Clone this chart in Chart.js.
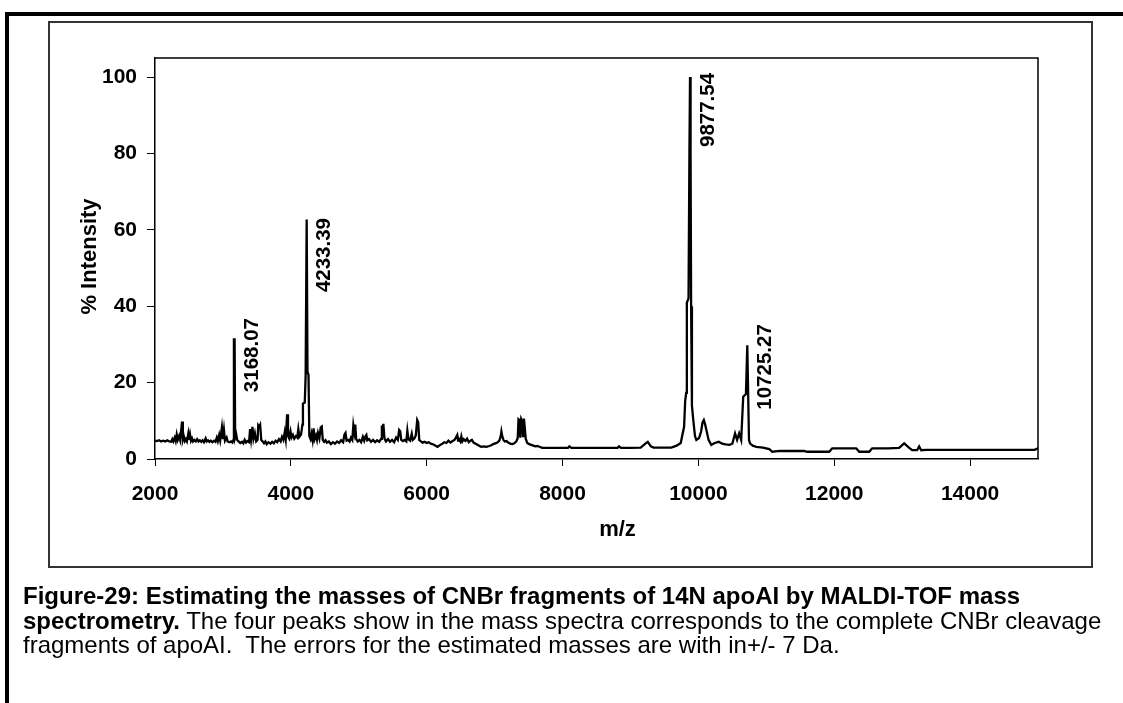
<!DOCTYPE html>
<html>
<head>
<meta charset="utf-8">
<script src="https://cdn.jsdelivr.net/npm/chart.js@4/dist/chart.umd.min.js"></script>
<style>
html,body{margin:0;padding:0;background:#fff;width:1123px;height:703px;overflow:hidden;}
#outer{position:absolute;left:5px;top:12px;width:1200px;height:800px;border-top:4px solid #000;border-left:4px solid #000;}
#frame{position:absolute;left:48px;top:21px;width:1045px;height:547px;box-sizing:border-box;border:2px solid #333;}
#c{position:absolute;left:0;top:0;}
#caption{position:absolute;left:23px;top:584px;font-family:'Liberation Sans',Arial,Helvetica,sans-serif;font-size:24px;line-height:24.7px;white-space:pre;color:#000;}
</style>
</head>
<body>
<div id="outer"></div>
<div id="frame"></div>
<canvas id="c" width="1123" height="703"></canvas>
<div id="caption"><b>Figure-29: Estimating the masses of CNBr fragments of 14N apoAI by MALDI-TOF mass</b>
<b>spectrometry.</b> The four peaks show in the mass spectra corresponds to the complete CNBr cleavage
fragments of apoAI.  The errors for the estimated masses are with in+/- 7 Da.</div>
<script>
// ---- data ----
const mz = [
 2000,2030,2060,2090,2120,2150,2180,2210,2240,2255,
 2270,2290,2305,2320,2335,2355,2370,2385,2398,2410,
 2425,2440,2455,2470,2490,2500,2515,2530,2545,2560,
 2580,2600,2620,2640,2660,2680,2700,2720,2745,2760,
 2780,2800,2820,2845,2870,2890,2910,2925,2945,2960,
 2985,3000,3015,3030,3055,3070,3095,3120,3140,3155,
 3162,3172,3180,3195,3210,3230,3255,3280,3300,3320,
 3340,3360,3385,3400,3415,3435,3450,3470,3490,3510,
 3520,3535,3548,3565,3585,3605,3625,3645,3670,3700,
 3725,3750,3775,3800,3825,3850,3870,3890,3910,3925,
 3945,3958,3975,3995,4010,4030,4050,4075,4095,4110,
 4125,4150,4170,4178,4205,4218,4233,4245,4260,4272,
 4290,4305,4320,4335,4350,4370,4385,4400,4420,4440,
 4455,4470,4490,4510,4530,4560,4590,4620,4650,4680,
 4710,4740,4770,4790,4805,4820,4845,4865,4885,4905,
 4920,4935,4948,4962,4985,5010,5035,5060,5080,5100,
 5112,5125,5150,5180,5210,5240,5270,5300,5330,5340,
 5352,5362,5378,5400,5430,5460,5490,5520,5550,5575,
 5595,5610,5625,5650,5675,5700,5715,5730,5755,5780,
 5795,5820,5840,5860,5875,5890,5910,5940,5970,6000,
 6030,6060,6100,6130,6160,6200,6230,6260,6290,6320,
 6350,6380,6410,6430,6450,6462,6475,6495,6510,6525,
 6545,6570,6595,6620,6645,6665,6690,6720,6760,6800,
 6840,6880,6920,6950,6980,7010,7040,7070,7090,7100,
 7112,7130,7150,7176,7200,7230,7260,7290,7320,7340,
 7352,7365,7378,7392,7405,7418,7432,7445,7458,7480,
 7510,7540,7570,7600,7630,7660,7700,7800,7900,8000,
 8080,8100,8130,8300,8500,8700,8810,8830,8860,9000,
 9150,9220,9255,9300,9340,9450,9600,9680,9740,9790,
 9805,9820,9830,9855,9868,9877,9885,9893,9905,9925,
 9950,9970,10010,10040,10060,10080,10100,10118,10150,10190,
 10240,10300,10350,10400,10456,10500,10540,10570,10600,10630,
 10660,10700,10720,10730,10745,10760,10800,10853,10950,11044,
 11088,11200,11400,11560,11600,11926,11971,12100,12324,12368,
 12515,12559,12800,12956,13030,13100,13147,13220,13250,13280,
 13353,14000,14500,14950,15000
];
const intensity = [
 4.8,4.7,4.9,4.6,4.8,4.6,4.9,4.6,4.5,5.2,
 4.6,5.6,4.7,6.4,5.0,6.0,5.0,7.5,9.8,5.0,
 5.9,4.7,5.2,4.6,6.6,5.0,6.5,4.8,5.4,4.6,
 5.0,4.6,5.2,4.6,4.9,4.5,4.9,4.4,5.4,4.6,
 4.9,4.5,4.8,4.4,4.8,4.5,5.6,4.7,6.3,4.9,
 8.3,5.2,7.6,4.8,5.6,4.6,4.4,4.6,4.3,5.0,
 31.3,31.3,5.6,6.5,5.0,4.6,4.2,4.5,4.1,5.0,
 4.3,4.7,4.4,7.8,5.2,8.4,5.3,6.8,4.6,5.0,
 8.8,8.4,8.9,5.0,4.6,4.1,4.6,3.9,4.4,4.0,
 4.5,4.1,4.8,4.4,5.2,4.6,5.8,5.0,7.0,5.2,
 11.7,6.0,5.4,7.2,5.6,6.3,5.3,6.0,5.6,7.8,
 5.8,6.4,9.0,14.5,14.8,22.0,62.7,22.9,22.0,6.0,
 5.2,6.6,5.0,8.0,5.2,6.2,5.0,6.8,5.4,8.3,
 8.5,5.0,4.5,4.9,4.3,4.6,3.9,4.4,4.0,4.6,
 4.2,4.9,4.4,6.4,6.8,4.8,5.0,4.6,5.6,5.0,
 8.8,7.0,9.0,5.2,4.6,5.0,4.4,5.8,4.8,6.0,
 6.3,4.9,5.2,4.5,5.0,4.4,4.9,4.5,5.3,8.8,
 7.5,9.2,5.4,4.6,5.2,4.5,5.0,4.4,5.6,5.0,
 7.6,7.3,5.0,4.7,5.0,4.6,7.4,5.2,4.8,6.6,
 5.0,5.4,6.2,10.2,9.6,5.0,4.7,4.3,4.5,4.2,
 4.4,4.0,3.8,3.5,3.2,3.7,4.0,4.4,4.2,4.8,
 4.3,4.7,5.0,5.6,6.3,4.8,5.2,4.6,5.9,4.6,
 5.2,4.7,5.3,4.4,4.8,5.0,4.3,4.0,3.6,3.2,
 3.3,3.2,3.4,3.6,3.9,4.1,4.3,4.8,6.0,7.2,
 6.0,5.0,4.6,4.7,4.3,4.0,3.9,4.1,4.6,5.5,
 10.4,10.2,5.6,10.5,10.0,6.0,10.6,8.0,5.3,4.2,
 3.9,3.7,3.5,3.3,3.4,3.2,2.9,2.9,2.9,2.9,
 2.9,3.3,2.9,2.9,2.9,2.9,2.9,3.3,2.9,2.9,
 3.0,4.0,4.5,3.3,3.0,3.0,3.0,3.5,4.2,8.5,
 15.0,17.3,41.0,42.0,80.0,100.0,80.0,40.0,14.0,10.2,
 6.0,5.0,5.5,7.2,9.5,10.2,9.0,7.6,5.0,3.7,
 4.2,4.5,4.0,3.8,3.7,4.0,6.7,5.0,6.7,5.0,
 16.3,17.0,29.8,29.8,5.0,4.1,3.5,3.2,3.0,2.6,
 1.9,2.1,2.1,2.1,1.9,1.9,2.8,2.8,2.8,1.9,
 1.9,2.8,2.8,2.9,4.1,3.0,2.3,2.3,3.3,2.3,
 2.4,2.4,2.4,2.4,2.8
];
const xTicks = [2000, 4000, 6000, 8000, 10000, 12000, 14000];
const yTicks = [0, 20, 40, 60, 80, 100];
const peakMz = [3168.07, 4233.39, 9877.54, 10725.27];
const peakLabels = ['3168.07', '4233.39', '9877.54', '10725.27'];
const peakLabelCenter = [27.2, 53.4, 91.4, 24.1];
const xTitle = 'm/z';
const yTitle = '% Intensity';

// ---- drawing ----
const FONT = "'Liberation Sans', Arial, Helvetica, sans-serif";

const extras = {
  id: 'extras',
  afterDraw(chart) {
    const ctx = chart.ctx;
    const a = chart.chartArea;
    const xs = chart.scales.x, ys = chart.scales.y;
    ctx.save();
    ctx.strokeStyle = '#000';
    ctx.lineWidth = 1.5;
    ctx.beginPath();
    ctx.moveTo(a.left, a.top);
    ctx.lineTo(a.right, a.top);
    ctx.lineTo(a.right, a.bottom);
    ctx.stroke();
    ctx.fillStyle = '#000';
    ctx.font = 'bold 22px ' + FONT;
    ctx.textAlign = 'center';
    ctx.textBaseline = 'middle';
    ctx.fillText(xTitle, (a.left + a.right) / 2 + 21, a.bottom + 71);
    ctx.save();
    ctx.translate(a.left - 65, (a.top + a.bottom) / 2 - 2);
    ctx.rotate(-Math.PI / 2);
    ctx.fillText(yTitle, 0, 0);
    ctx.restore();
    ctx.font = 'bold 20.5px ' + FONT;
    peakMz.forEach((m, i) => {
      const px = xs.getPixelForValue(m) + 18;
      const py = ys.getPixelForValue(peakLabelCenter[i]);
      ctx.save();
      ctx.translate(px, py);
      ctx.rotate(-Math.PI / 2);
      ctx.fillText(peakLabels[i], 0, 0);
      ctx.restore();
    });
    ctx.restore();
  }
};

const tickFont = { family: FONT, size: 21, weight: 'bold' };

new Chart(document.getElementById('c').getContext('2d'), {
  type: 'scatter',
  data: {
    datasets: [{
      data: mz.map((x, i) => ({ x: x, y: intensity[i] })),
      showLine: true,
      borderColor: '#000',
      backgroundColor: '#000',
      borderWidth: 2.3,
      pointRadius: 0,
      tension: 0,
      fill: false
    }]
  },
  options: {
    responsive: false,
    animation: false,
    devicePixelRatio: 1,
    layout: { padding: { left: 75, top: 58, right: 85, bottom: 184 } },
    plugins: { legend: { display: false }, tooltip: { enabled: false } },
    scales: {
      x: {
        type: 'linear', min: 2000, max: 15000,
        afterBuildTicks: s => { s.ticks = xTicks.map(v => ({ value: v })); },
        afterFit: s => { s.height = 60; },
        grid: { display: true, drawOnChartArea: false, drawTicks: true, tickLength: 7, color: '#000', lineWidth: 1 },
        border: { display: true, color: '#000', width: 1.5 },
        ticks: { padding: 16, color: '#000', font: tickFont, maxRotation: 0, autoSkip: false, callback: v => String(v) }
      },
      y: {
        type: 'linear', min: 0, max: 105,
        afterBuildTicks: s => { s.ticks = yTicks.map(v => ({ value: v })); },
        afterFit: s => { s.width = 80; },
        grid: { display: true, drawOnChartArea: false, drawTicks: true, tickLength: 8, color: '#000', lineWidth: 1 },
        border: { display: true, color: '#000', width: 1.5 },
        ticks: { padding: 10, color: '#000', font: tickFont, autoSkip: false, callback: v => String(v) }
      }
    }
  },
  plugins: [extras]
});
</script>
</body>
</html>
